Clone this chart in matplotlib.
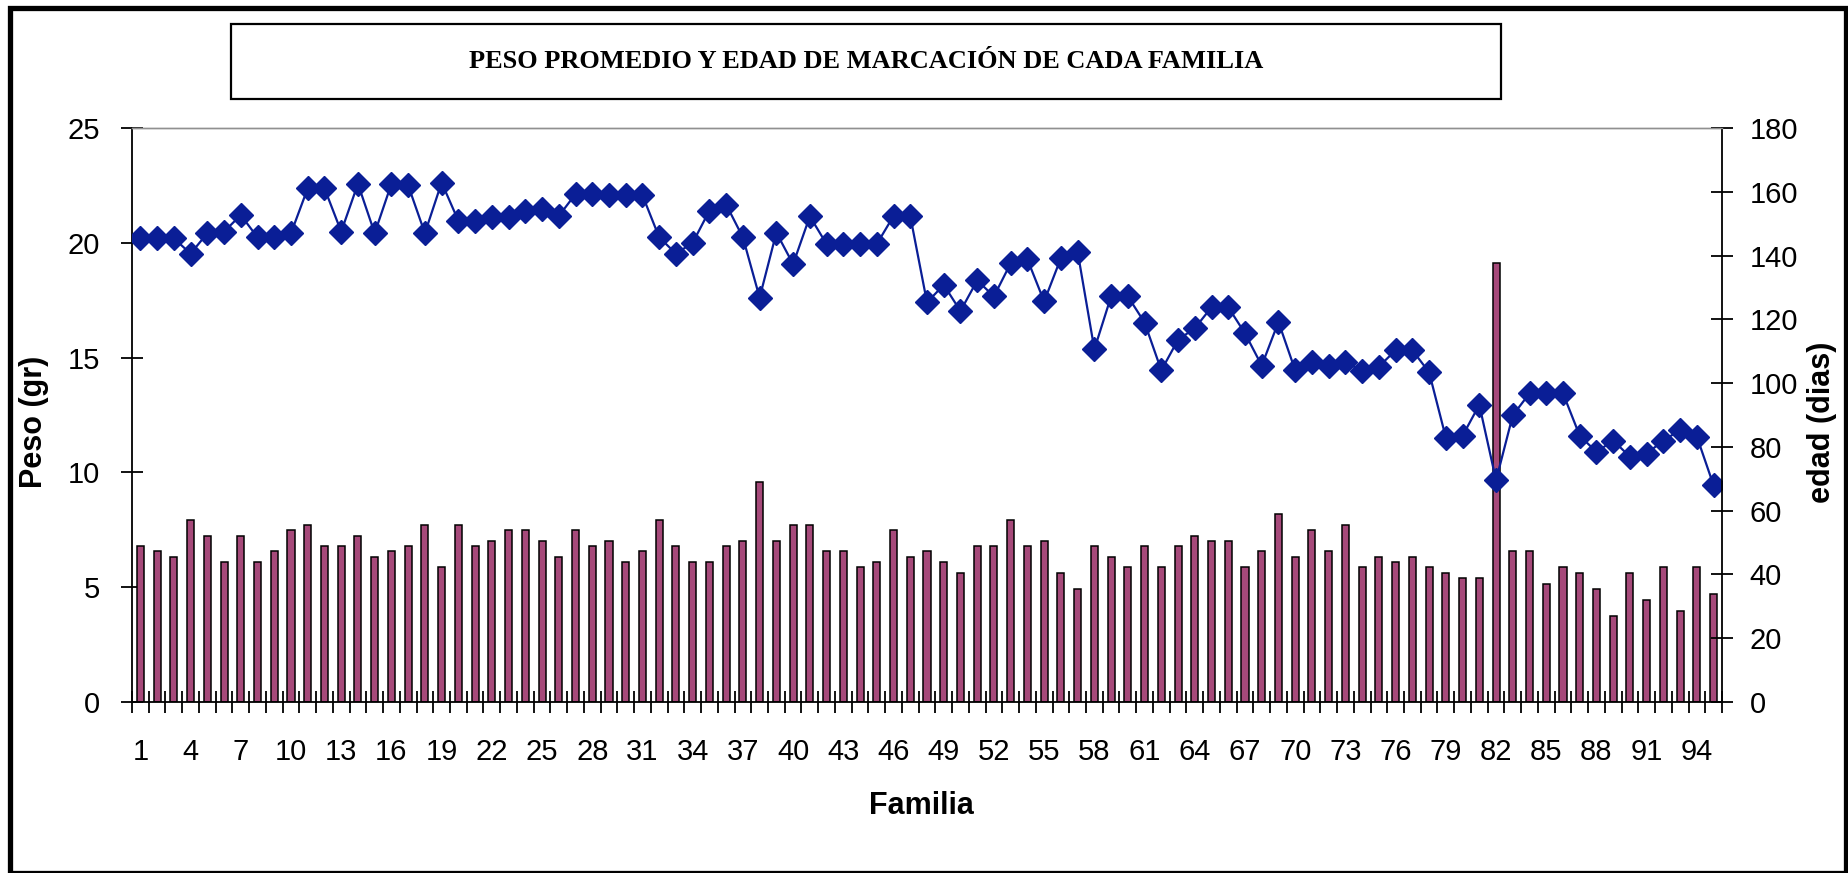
import matplotlib.pyplot as plt
import matplotlib.patches as patches
import numpy as np

# peso promedio (gr) y edad de marcacion (dias) por familia
familias = list(range(1, 96))

peso = [6.79, 6.56, 6.33, 7.94, 7.24, 6.09, 7.24, 6.09, 6.56, 7.49,
        7.73, 6.79, 6.79, 7.24, 6.33, 6.56, 6.79, 7.73, 5.86, 7.73,
        6.79, 7.03, 7.49, 7.49, 7.03, 6.33, 7.49, 6.79, 7.03, 6.09,
        6.56, 7.94, 6.79, 6.09, 6.09, 6.79, 7.03, 9.60, 7.03, 7.73,
        7.73, 6.56, 6.56, 5.86, 6.09, 7.49, 6.33, 6.56, 6.09, 5.62,
        6.79, 6.79, 7.94, 6.79, 7.03, 5.62, 4.92, 6.79, 6.33, 5.86,
        6.79, 5.86, 6.79, 7.24, 7.03, 7.03, 5.86, 6.56, 8.19, 6.33,
        7.49, 6.56, 7.73, 5.86, 6.33, 6.09, 6.33, 5.86, 5.62, 5.39,
        5.39, 19.14, 6.56, 6.56, 5.16, 5.86, 5.62, 4.92, 3.74, 5.62,
        4.46, 5.86, 3.97, 5.86, 4.69]

edad = [145.4, 145.4, 145.4, 140.6, 147.0, 147.5, 152.7, 145.7, 145.7, 147.0,
        161.1, 161.1, 147.5, 162.5, 147.0, 162.5, 162.0, 147.0, 162.9, 150.9,
        150.9, 152.1, 152.1, 154.1, 154.5, 152.4, 159.3, 159.3, 158.9, 158.9,
        158.9, 145.7, 140.6, 144.0, 154.1, 156.0, 145.7, 126.8, 147.2, 137.3,
        152.3, 143.6, 143.6, 143.6, 143.6, 152.4, 152.4, 125.3, 130.8, 122.6,
        132.2, 127.2, 137.6, 138.8, 125.6, 139.2, 141.2, 110.6, 127.2, 127.2,
        119.0, 104.0, 113.6, 117.2, 123.8, 123.8, 115.6, 105.5, 119.2, 104.0,
        106.7, 105.5, 106.7, 103.7, 105.2, 110.3, 110.3, 103.4, 82.9, 83.5,
        93.2, 69.5, 89.9, 96.8, 96.8, 96.8, 83.5, 78.4, 82.0, 76.9,
        77.9, 82.0, 85.3, 83.2, 67.9]

ticks_x = [1, 4, 7, 10, 13, 16, 19, 22, 25, 28, 31, 34, 37, 40, 43, 46,
           49, 52, 55, 58, 61, 64, 67, 70, 73, 76, 79, 82, 85, 88, 91, 94]
ticks_peso = [0, 5, 10, 15, 20, 25]
ticks_edad = [0, 20, 40, 60, 80, 100, 120, 140, 160, 180]

TITULO = 'PESO PROMEDIO Y EDAD DE MARCACIÓN DE CADA FAMILIA'
COLOR_BARRA = '#A6497A'
COLOR_LINEA = '#0A1E96'

plt.rcParams['font.family'] = ['Liberation Sans', 'DejaVu Sans']

W, H = 1848, 873
fig = plt.figure(figsize=(W / 100, H / 100), dpi=100)
ax = fig.add_axes([132 / W, 1 - 702 / H, (1722 - 132) / W, (702 - 128) / H])
ax2 = ax.twinx()

# barras: peso
ax.bar(familias, peso, width=0.42, color=COLOR_BARRA, edgecolor='black',
       linewidth=1.1, zorder=2)
ax.set_xlim(0.5, 95.5)
ax.set_ylim(0, 25)
ax.set_yticks(ticks_peso)
ax.set_xticks(ticks_x)
ax.set_xticklabels([str(t) for t in ticks_x])
ax.set_xticks(np.arange(0.5, 96, 1), minor=True)

# linea: edad
ax2.plot(familias, edad, color=COLOR_LINEA, linewidth=1.6, marker='D',
         markersize=12, markerfacecolor=COLOR_LINEA, markeredgecolor=COLOR_LINEA)
ax2.set_ylim(0, 180)
ax2.set_yticks(ticks_edad)

for a in (ax, ax2):
    for s in a.spines.values():
        s.set_linewidth(1.3)
    a.spines['top'].set_color('#909090')
    a.spines['top'].set_linewidth(1.0)
ax.spines['right'].set_visible(False)
ax2.spines['left'].set_visible(False)
ax2.spines['bottom'].set_visible(False)

ax.tick_params(axis='y', direction='inout', length=16, width=1.3, pad=15,
               labelsize=21)
ax2.tick_params(axis='y', direction='inout', length=16, width=1.3, pad=12,
                labelsize=21)
ax.tick_params(axis='x', which='major', length=0, pad=26, labelsize=21)
ax.tick_params(axis='x', which='minor', direction='inout', length=16, width=1.3)

# textos
fig.text(34 / W, 1 - 422 / H, 'Peso (gr)', rotation=90, ha='center',
         va='center', fontsize=22, fontweight='bold')
fig.text(1822 / W, 1 - 422 / H, 'edad (dias)', rotation=90, ha='center',
         va='center', fontsize=22, fontweight='bold')
fig.text(921 / W, 1 - 806 / H, 'Familia', ha='center', va='center',
         fontsize=22, fontweight='bold')

# caja del titulo
fig.patches.append(patches.Rectangle((231 / W, 1 - 99 / H), 1270 / W, 75 / H,
                                     transform=fig.transFigure, fill=False,
                                     edgecolor='black', linewidth=1.6))
fig.text(866 / W, 1 - 62 / H, TITULO, ha='center', va='center',
         fontsize=19, fontweight='bold',
         family=['Liberation Serif', 'DejaVu Serif'])

# marco exterior
fig.patches.append(patches.Rectangle((10 / W, 0), 1836 / W, 1 - 8 / H,
                                     transform=fig.transFigure, fill=False,
                                     edgecolor='black', linewidth=3.8))

fig.savefig('out.png', dpi=100)
